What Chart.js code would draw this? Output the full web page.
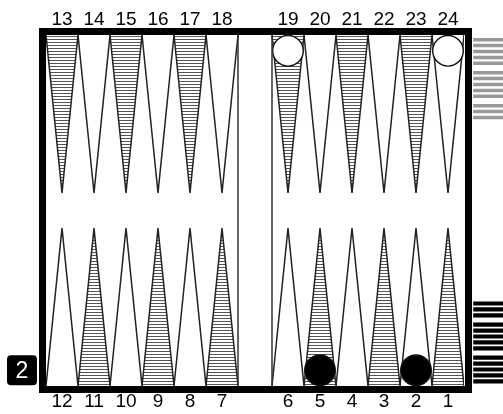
<!DOCTYPE html>
<html>
<head>
<meta charset="utf-8">
<script src="https://cdn.jsdelivr.net/npm/chart.js@4.4.1/dist/chart.umd.min.js"></script>
<style>
  html, body { margin: 0; padding: 0; background: #fff; }
</style>
</head>
<body>
<canvas id="board" width="503" height="414"></canvas>
<script>
// Point numbers along each edge, left to right
const topPoints = [13, 14, 15, 16, 17, 18, 19, 20, 21, 22, 23, 24];
const bottomPoints = [12, 11, 10, 9, 8, 7, 6, 5, 4, 3, 2, 1];

// Checkers on the board: point number and count
const whitePoints = [19, 24];
const whiteCounts = [1, 1];
const blackPoints = [5, 2];
const blackCounts = [1, 1];

// Borne off checkers and the doubling cube
const whiteOff = 13;
const blackOff = 13;
const cubeValue = 2;

// layout, in point widths (x) and board units (y)
const BAR = 34 / 32;
const X_MAX = 12 + BAR;
const Y_MAX = 10;
const POINT_LEN = 4.5;
const CHK_Y = 0.45;
const FONT = "'Liberation Sans', Arial, sans-serif";

function colLeft(col) { return col < 6 ? col : col + BAR; }
function pointPos(n) {
    if (n >= 13) return { col: n - 13, top: true };
    return { col: 12 - n, top: false };
}

function makeStripes() {
    const c = document.createElement('canvas');
    c.width = 4; c.height = 3;
    const g = c.getContext('2d');
    g.fillStyle = '#fff';
    g.fillRect(0, 0, 4, 3);
    g.fillStyle = '#555';
    g.fillRect(0, 0, 4, 1);
    return g.createPattern(c, 'repeat');
}
const stripes = makeStripes();

const datasets = [];

// the 24 points
[...topPoints, ...bottomPoints].forEach(n => {
    const { col, top } = pointPos(n);
    const x0 = colLeft(col);
    const base = top ? Y_MAX : 0;
    const tip = top ? Y_MAX - POINT_LEN : POINT_LEN;
    datasets.push({
        data: [{ x: x0, y: base }, { x: x0 + 0.5, y: tip }, { x: x0 + 1, y: base }],
        fill: top ? 'end' : 'start',
        backgroundColor: n % 2 ? stripes : '#fff',
        borderColor: '#222',
        borderWidth: 1.5,
        borderJoinStyle: 'bevel',
        pointRadius: 0,
        order: 3
    });
});

// checkers
function checkerData(points, counts) {
    const out = [];
    points.forEach((n, i) => {
        const { col, top } = pointPos(n);
        for (let k = 0; k < counts[i]; k++) {
            const off = CHK_Y + k * 2 * CHK_Y;
            out.push({ x: colLeft(col) + 0.5, y: top ? Y_MAX - off : off });
        }
    });
    return out;
}
[[whitePoints, whiteCounts, '#fff'], [blackPoints, blackCounts, '#000']].forEach(([p, c, col]) => {
    datasets.push({
        data: checkerData(p, c),
        showLine: false,
        pointRadius: 15.3,
        pointBorderWidth: 1.4,
        pointBackgroundColor: col,
        pointBorderColor: '#111',
        order: 0,
        clip: false
    });
});

// borne off stacks, groups of five
const OFF_X0 = 13.35, OFF_X1 = 14.6;
const SLAB = 0.168, SLAB_GAP = 0.1;
function offYs(count, fromTop) {
    const ys = [];
    for (let k = 0; k < count; k++) {
        const d = 0.05 + SLAB * (k + 0.5) + SLAB_GAP * Math.floor(k / 5);
        ys.push(fromTop ? Y_MAX - d : d);
    }
    return ys;
}
offYs(whiteOff, true).forEach(y => datasets.push({
    data: [{ x: OFF_X0, y }, { x: OFF_X1, y }],
    borderColor: '#999', borderWidth: 3.5, borderCapStyle: 'butt',
    pointRadius: 0, fill: false, clip: false, order: 1
}));
offYs(blackOff, false).forEach(y => datasets.push({
    data: [{ x: OFF_X0, y }, { x: OFF_X1, y }],
    borderColor: '#000', borderWidth: 4.2, borderCapStyle: 'butt',
    pointRadius: 0, fill: false, clip: false, order: 1
}));

// frame, bar and cube
const boardFrame = {
    id: 'boardFrame',
    afterDatasetsDraw(chart) {
        const { ctx, chartArea: a, scales: { x, y } } = chart;
        const W = 7;
        const right = x.getPixelForValue(X_MAX) + 1;
        ctx.save();
        // bar edges
        ctx.strokeStyle = '#333';
        ctx.lineWidth = 1.5;
        [6, 6 + BAR].forEach(v => {
            const px = x.getPixelForValue(v);
            ctx.beginPath();
            ctx.moveTo(px, a.top);
            ctx.lineTo(px, a.bottom);
            ctx.stroke();
        });
        ctx.fillStyle = '#000';
        ctx.fillRect(a.left - W, a.top - W, right + W - (a.left - W), W);
        ctx.fillRect(a.left - W, a.bottom, right + W - (a.left - W), W);
        ctx.fillRect(a.left - W, a.top - W, W, a.bottom - a.top + 2 * W);
        ctx.fillRect(right, a.top - W, W, a.bottom - a.top + 2 * W);

        // cube
        const cx = x.getPixelForValue(-0.75);
        const cy = y.getPixelForValue(CHK_Y);
        ctx.beginPath();
        ctx.roundRect(cx - 15, cy - 15, 30, 30, 4);
        ctx.fill();
        ctx.fillStyle = '#fff';
        ctx.font = '23px ' + FONT;
        ctx.textAlign = 'center';
        ctx.textBaseline = 'middle';
        ctx.fillText(String(cubeValue), cx, cy + 1);
        ctx.restore();
    }
};

function axis(position, labels, height, pad) {
    return {
        type: 'linear',
        position: position,
        min: 0,
        max: X_MAX,
        afterBuildTicks: s => { s.ticks = labels.map((n, i) => ({ value: colLeft(i) + 0.5 })); },
        afterFit: s => { s.height = height; },
        ticks: {
            callback: (v, i) => labels[i],
            autoSkip: false,
            maxRotation: 0,
            padding: pad,
            color: '#000',
            font: { family: FONT, size: 19 }
        },
        grid: { display: false, drawTicks: false },
        border: { display: false }
    };
}

new Chart(document.getElementById('board').getContext('2d'), {
    type: 'line',
    data: { datasets },
    options: {
        responsive: false,
        animation: false,
        layout: { padding: { left: 46, right: 39, top: 0, bottom: 0 } },
        plugins: { legend: { display: false }, tooltip: { enabled: false } },
        scales: {
            x: axis('bottom', bottomPoints, 28, 4),
            xTop: axis('top', topPoints, 35, 4),
            y: { type: 'linear', min: 0, max: Y_MAX, display: false }
        }
    },
    plugins: [boardFrame]
});
</script>
</body>
</html>
